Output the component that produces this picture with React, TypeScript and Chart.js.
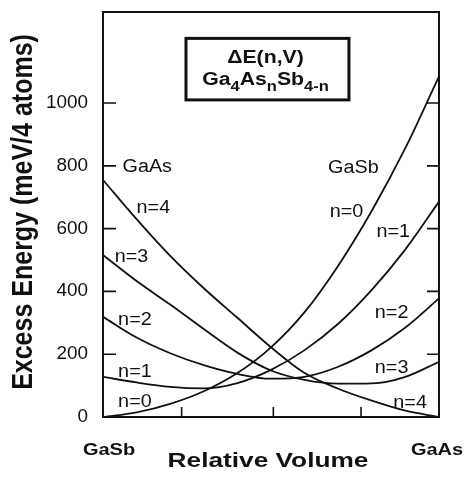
import React, { useEffect, useRef } from "react";
import { Chart, registerables } from "chart.js";

Chart.register(...registerables);

// Relative volume, 0 = GaSb lattice, 1 = GaAs lattice
const relativeVolume = [0, 0.1, 0.2, 0.3, 0.4, 0.5, 0.6, 0.7, 0.8, 0.9, 1.0];

// Excess energy (meV / 4 atoms) of Ga4AsnSb4-n clusters
const energyN0 = [0, 15, 42, 82, 140, 222, 334, 482, 657, 857, 1085];
const energyN1 = [128, 110, 96, 91, 108, 150, 213, 297, 405, 534, 686];
const energyN2 = [319, 253, 203, 165, 137, 122, 128, 160, 213, 285, 378];
const energyN3 = [516, 433, 358, 280, 205, 148, 118, 106, 107, 128, 176];
const energyN4 = [755, 630, 513, 410, 316, 222, 140, 90, 52, 20, 0];

const seriesNames = ["n=0", "n=1", "n=2", "n=3", "n=4"];
const energyTicks = [0, 200, 400, 600, 800, 1000];
const volumeTicks = [0.234, 0.507, 0.768];
const endMembers = ["GaSb", "GaAs"];

const INK = "#111";
const FONT = '"Liberation Sans", Arial, Helvetica, sans-serif';

// Curve labels placed in data space (relative volume, energy)
const curveLabels = [
  { text: "GaAs", x: 0.058, y: 796 },
  { text: "n=4", x: 0.1, y: 666 },
  { text: "n=3", x: 0.035, y: 510 },
  { text: "n=2", x: 0.045, y: 309 },
  { text: "n=1", x: 0.045, y: 144 },
  { text: "n=0", x: 0.045, y: 49 },
  { text: "GaSb", x: 0.67, y: 792 },
  { text: "n=0", x: 0.675, y: 654 },
  { text: "n=1", x: 0.814, y: 590 },
  { text: "n=2", x: 0.809, y: 330 },
  { text: "n=3", x: 0.809, y: 155 },
  { text: "n=4", x: 0.864, y: 44 },
];

const legendBox = { x0: 0.247, x1: 0.732, yTop: 1206, yBottom: 1010 };

function drawStretched(
  ctx: CanvasRenderingContext2D,
  text: string,
  x: number,
  y: number,
  font: string,
  sx: number,
  align: "left" | "center" | "right",
  baseline: CanvasTextBaseline = "alphabetic"
) {
  ctx.save();
  ctx.font = font;
  ctx.textBaseline = baseline;
  ctx.textAlign = "left";
  const w = ctx.measureText(text).width * sx;
  const left = align === "center" ? x - w / 2 : align === "right" ? x - w : x;
  ctx.translate(left, y);
  ctx.scale(sx, 1);
  ctx.fillText(text, 0, 0);
  ctx.restore();
}

type Seg = { t: string; sub?: boolean };

function drawFormula(ctx: CanvasRenderingContext2D, segs: Seg[], cx: number, baseline: number, sx: number) {
  const big = `bold 18px ${FONT}`;
  const small = `bold 14px ${FONT}`;
  ctx.save();
  let total = 0;
  const widths = segs.map((s) => {
    ctx.font = s.sub ? small : big;
    const w = ctx.measureText(s.t).width * sx;
    total += w;
    return w;
  });
  let x = cx - total / 2;
  segs.forEach((s, i) => {
    drawStretched(ctx, s.t, x, baseline + (s.sub ? 6.5 : 0), s.sub ? small : big, sx, "left");
    x += widths[i];
  });
  ctx.restore();
}

const decorations = {
  id: "decorations",
  afterDatasetsDraw(chart: any) {
    const { ctx, chartArea: a, scales } = chart;
    const xs = scales.x;
    const ys = scales.y;
    ctx.save();
    ctx.fillStyle = INK;
    ctx.strokeStyle = INK;

    // frame
    ctx.lineWidth = 2;
    ctx.strokeRect(a.left, a.top, a.right - a.left, a.bottom - a.top);

    // inward tick marks and energy labels
    ctx.lineWidth = 1.6;
    ctx.beginPath();
    energyTicks.forEach((v) => {
      const py = ys.getPixelForValue(v);
      ctx.moveTo(a.left, py);
      ctx.lineTo(a.left + 13, py);
      ctx.moveTo(a.right, py);
      ctx.lineTo(a.right - 12, py);
      drawStretched(ctx, String(v), a.left - 15, py, `18px ${FONT}`, 1.05, "right", "middle");
    });
    volumeTicks.forEach((v) => {
      const px = xs.getPixelForValue(v);
      ctx.moveTo(px, a.bottom);
      ctx.lineTo(px, a.bottom - 10);
    });
    ctx.stroke();

    // curve labels
    curveLabels.forEach((l) => {
      drawStretched(ctx, l.text, xs.getPixelForValue(l.x), ys.getPixelForValue(l.y), `18px ${FONT}`, 1.1, "left", "middle");
    });

    // legend box
    const bx0 = xs.getPixelForValue(legendBox.x0);
    const bx1 = xs.getPixelForValue(legendBox.x1);
    const by0 = ys.getPixelForValue(legendBox.yTop);
    const by1 = ys.getPixelForValue(legendBox.yBottom);
    ctx.lineWidth = 3;
    ctx.strokeRect(bx0, by0, bx1 - bx0, by1 - by0);
    const bcx = (bx0 + bx1) / 2 - 2;
    drawStretched(ctx, "\u0394E(n,V)", bcx, by0 + 25, `bold 18px ${FONT}`, 1.18, "center");
    drawFormula(
      ctx,
      [{ t: "Ga" }, { t: "4", sub: true }, { t: "As" }, { t: "n", sub: true }, { t: "Sb" }, { t: "4-n", sub: true }],
      bcx,
      by0 + 46.5,
      1.18
    );

    // end-member labels under the axis
    drawStretched(ctx, endMembers[0], xs.getPixelForValue(0) + 6, 455, `bold 16px ${FONT}`, 1.25, "center");
    drawStretched(ctx, endMembers[1], xs.getPixelForValue(1) - 2, 455, `bold 16px ${FONT}`, 1.25, "center");

    // axis titles
    drawStretched(ctx, "Relative Volume", 268, 467, `bold 21px ${FONT}`, 1.25, "center");
    ctx.save();
    ctx.translate(24, 212);
    ctx.scale(1.15, 1);
    ctx.rotate(-Math.PI / 2);
    ctx.font = `bold 25px ${FONT}`;
    ctx.textAlign = "center";
    ctx.textBaseline = "middle";
    ctx.fillText("Excess Energy (meV/4 atoms)", 0, 0);
    ctx.restore();

    ctx.restore();
  },
};

export default function App() {
  const canvasRef = useRef<HTMLCanvasElement | null>(null);

  useEffect(() => {
    const canvas = canvasRef.current;
    if (!canvas) return;
    const series = [energyN0, energyN1, energyN2, energyN3, energyN4];
    const chart = new Chart(canvas, {
      type: "line",
      data: {
        datasets: series.map((vals, i) => ({
          label: seriesNames[i],
          data: relativeVolume.map((x, j) => ({ x, y: vals[j] })),
          borderColor: INK,
          borderWidth: 1.8,
          pointRadius: 0,
          fill: false,
          cubicInterpolationMode: "monotone" as const,
        })),
      },
      options: {
        responsive: false,
        animation: false,
        events: [],
        layout: { padding: { left: 0, right: 27, top: 12, bottom: 0 } },
        plugins: { legend: { display: false }, tooltip: { enabled: false }, title: { display: false } },
        scales: {
          x: {
            type: "linear",
            min: 0,
            max: 1,
            grid: { display: false, drawTicks: false },
            border: { display: false },
            ticks: { display: false },
            afterFit: (s: any) => {
              s.height = 69;
            },
          },
          y: {
            type: "linear",
            min: 0,
            max: 1290,
            grid: { display: false, drawTicks: false },
            border: { display: false },
            ticks: { display: false },
            afterBuildTicks: (s: any) => {
              s.ticks = energyTicks.map((v) => ({ value: v }));
            },
            afterFit: (s: any) => {
              s.width = 103;
            },
          },
        },
      },
      plugins: [decorations],
    });
    return () => chart.destroy();
  }, []);

  return (
    <div style={{ position: "absolute", left: 0, top: 0, width: 466, height: 486, background: "#fff" }}>
      <canvas ref={canvasRef} width={466} height={486} />
    </div>
  );
}
